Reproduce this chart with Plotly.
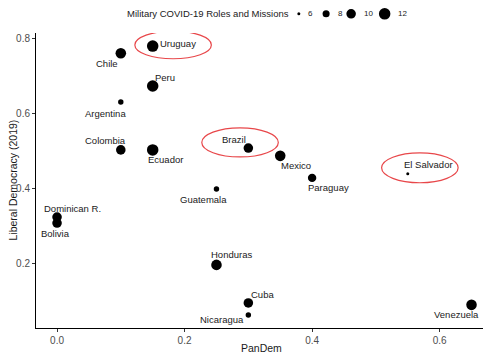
import plotly.graph_objects as go
import math

# ---- data ----
countries = ["Uruguay", "Chile", "Peru", "Argentina", "Colombia", "Ecuador", "Brazil",
             "Mexico", "Paraguay", "El Salvador", "Guatemala", "Dominican R.", "Bolivia",
             "Honduras", "Cuba", "Nicaragua", "Venezuela"]
pandem = [0.15, 0.10, 0.15, 0.10, 0.10, 0.15, 0.30, 0.35, 0.40, 0.55, 0.25, 0.0, 0.0,
          0.25, 0.30, 0.30, 0.65]
libdem = [0.781, 0.762, 0.674, 0.631, 0.503, 0.503, 0.508, 0.487, 0.428, 0.439, 0.398,
          0.323, 0.307, 0.195, 0.093, 0.061, 0.088]
roles = [12, 11, 12, 7, 10, 12, 10, 11, 9, 6, 7, 10, 10, 11, 10, 7, 11]
legend_values = [6, 8, 10, 12]
highlighted = ["Uruguay", "Brazil", "El Salvador"]
x_ticks = [0.0, 0.2, 0.4, 0.6]
y_ticks = [0.2, 0.4, 0.6, 0.8]

# ---- styling helpers ----
D_MIN, D_MAX, V_MIN, V_MAX = 3.0, 11.5, 6, 12


def diam(v):
    a = D_MIN ** 2 + (v - V_MIN) / (V_MAX - V_MIN) * (D_MAX ** 2 - D_MIN ** 2)
    return math.sqrt(max(a, 4))


# label offsets in pixels (dx right, dy down)
label_off = {
    "Uruguay": (25, -3), "Chile": (-14, 10), "Peru": (12, -9), "Argentina": (-15, 11),
    "Colombia": (-15, -9), "Ecuador": (13, 10), "Brazil": (-14, -9), "Mexico": (16, 10),
    "Paraguay": (16, 10), "El Salvador": (21, -9), "Guatemala": (-13, 10),
    "Dominican R.": (15, -9), "Bolivia": (-2, 10), "Honduras": (15, -10), "Cuba": (14, -8),
    "Nicaragua": (-26, 5), "Venezuela": (-15, 10),
}
# ellipse: centre offset from point (data units) and half sizes
ell_style = {
    "Uruguay": (0.032, 0.003, 0.060, 0.037),
    "Brazil": (-0.013, 0.015, 0.060, 0.039),
    "El Salvador": (0.019, 0.016, 0.060, 0.040),
}

FONT = "Liberation Sans, Arial, sans-serif"
TXT = "#1a1a1a"

fig = go.Figure()
fig.add_trace(go.Scatter(
    x=pandem, y=libdem, mode="markers",
    marker=dict(size=[diam(r) for r in roles], color="#000000", opacity=1, line=dict(width=0)),
    showlegend=False, hoverinfo="text", text=countries, cliponaxis=False,
))

for c, x, y in zip(countries, pandem, libdem):
    dx, dy = label_off[c]
    fig.add_annotation(x=x, y=y, text=c, showarrow=False, xshift=dx, yshift=-dy,
                       font=dict(size=9.5, color=TXT, family=FONT))

for c in highlighted:
    i = countries.index(c)
    ox, oy, hw, hh = ell_style[c]
    cx, cy = pandem[i] + ox, libdem[i] + oy
    fig.add_shape(type="circle", xref="x", yref="y", x0=cx - hw, x1=cx + hw,
                  y0=cy - hh, y1=cy + hh, line=dict(color="#e8474a", width=1.2))

# ---- manual size legend ----
LEG_Y = 1.065
fig.add_annotation(xref="paper", yref="paper", x=0.198, y=LEG_Y, xanchor="left",
                   yanchor="middle", text="Military COVID-19 Roles and Missions",
                   showarrow=False, font=dict(size=9.5, color=TXT, family=FONT))
leg_x = [0.588, 0.649, 0.705, 0.780]
for v, lx in zip(legend_values, leg_x):
    d = diam(v)
    fig.add_shape(type="circle", xref="paper", yref="paper", xsizemode="pixel",
                  ysizemode="pixel", xanchor=lx, yanchor=LEG_Y, x0=-d / 2, x1=d / 2,
                  y0=-d / 2, y1=d / 2, fillcolor="black", line=dict(width=0))
    fig.add_annotation(xref="paper", yref="paper", x=lx, y=LEG_Y, xshift=d / 2 + 6,
                       xanchor="left", yanchor="middle", text=str(v), showarrow=False,
                       font=dict(size=8, color=TXT, family=FONT))

# ---- axis titles ----
fig.add_annotation(xref="paper", yref="paper", x=0.505, y=0, yshift=-20, xanchor="center",
                   yanchor="middle", text="PanDem", showarrow=False,
                   font=dict(size=10.5, color=TXT, family=FONT))
fig.add_annotation(xref="paper", yref="paper", x=0, xshift=-24, y=0.5, xanchor="center",
                   yanchor="middle", text="Liberal Democracy (2019)", textangle=-90,
                   showarrow=False, font=dict(size=10.5, color=TXT, family=FONT))

axis_common = dict(showgrid=False, zeroline=False, showline=True, linecolor="black",
                   linewidth=1, ticks="outside", ticklen=3, tickcolor="#333",
                   tickfont=dict(size=10, color="#4d4d4d", family=FONT), automargin=False)

fig.update_layout(
    width=485, height=355,
    margin=dict(l=36, r=2, t=33, b=27),
    paper_bgcolor="white", plot_bgcolor="white",
    font=dict(family=FONT, color=TXT),
    xaxis=dict(range=[-0.033, 0.668], tickvals=x_ticks,
               ticktext=[f"{t:.1f}" for t in x_ticks], **axis_common),
    yaxis=dict(range=[0.026, 0.816], tickvals=y_ticks,
               ticktext=[f"{t:.1f}" for t in y_ticks], **axis_common),
)

fig.write_html("out.html", config={"displayModeBar": False},
               post_script="document.body.style.margin='0';document.body.style.padding='0';")
